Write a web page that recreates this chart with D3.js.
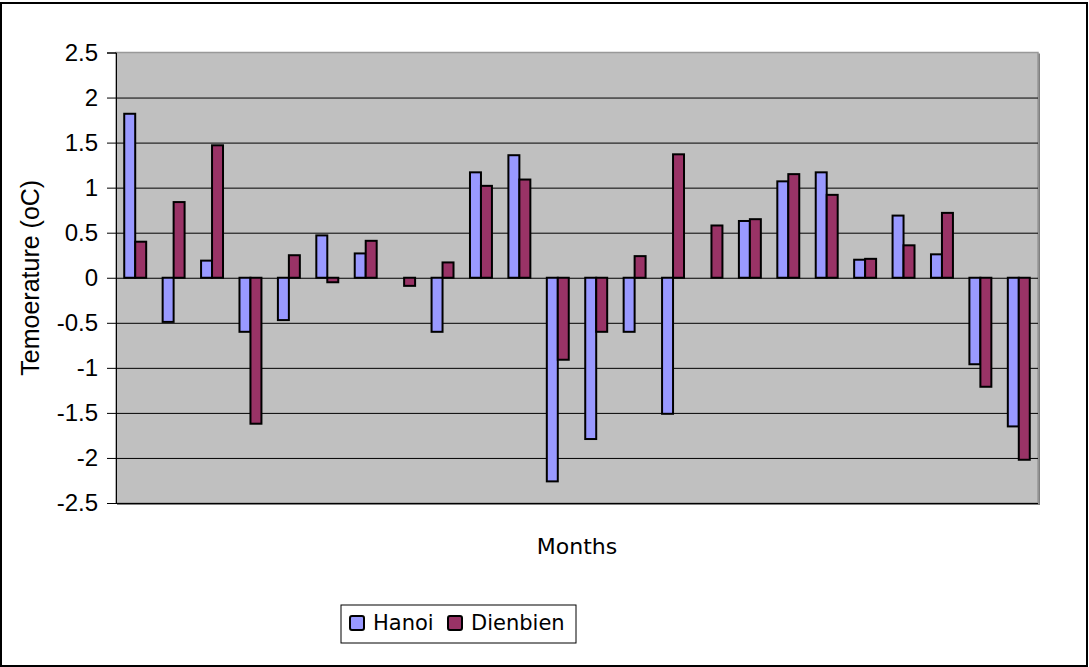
<!DOCTYPE html>
<meta charset="utf-8">
<style>
  body { margin: 0; background: #fff; }
  .tick text { font-family: "Liberation Sans", Arial, sans-serif; }
</style>
<script src="https://d3js.org/d3.v7.min.js"></script>
<div id="chart"></div>
<script>

// months on the x axis (no labels are printed in the chart)
var months = ["1", "2", "3", "4", "5", "6", "7", "8", "9", "10", "11", "12",
              "13", "14", "15", "16", "17", "18", "19", "20", "21", "22", "23", "24"];
var seriesNames = ["Hanoi", "Dienbien"];
var hanoi    = [1.82, -0.49, 0.19, -0.60, -0.47, 0.47, 0.27, 0.00, -0.60, 1.17, 1.36, -2.26,
                -1.79, -0.60, -1.51, null, 0.63, 1.07, 1.17, 0.20, 0.69, 0.26, -0.96, -1.65];
var dienbien = [0.40, 0.84, 1.47, -1.62, 0.25, -0.05, 0.41, -0.09, 0.17, 1.02, 1.09, -0.91,
                -0.60, 0.24, 1.37, 0.58, 0.65, 1.15, 0.92, 0.21, 0.36, 0.72, -1.21, -2.02];
var yTicks = [-2.5, -2, -1.5, -1, -0.5, 0, 0.5, 1, 1.5, 2, 2.5];
var colors = ["#9999FF", "#993366"];

var W = 1089, H = 667;
var margin = {top: 52.5, right: 51, bottom: 164, left: 116},
    width = W - margin.left - margin.right,
    height = H - margin.top - margin.bottom;

var svg = d3.select("#chart")
  .append("svg")
    .attr("width", W)
    .attr("height", H);

// outer frame
svg.append("rect")
    .attr("x", 1).attr("y", 3)
    .attr("width", 1086).attr("height", 663)
    .attr("fill", "#fff")
    .attr("stroke", "#000")
    .attr("stroke-width", 2);

var g = svg.append("g")
    .attr("transform", "translate(" + margin.left + "," + margin.top + ")");

var x0 = d3.scaleBand()
    .domain(months)
    .range([0, width]);
var x1 = d3.scaleBand()
    .domain(seriesNames)
    .range([0, x0.bandwidth()])
    .paddingInner(0)
    .paddingOuter(0.75);
var y = d3.scaleLinear()
    .domain([-2.5, 2.5])
    .range([height, 0]);

// plot area with a grey shadow
g.append("rect")
    .attr("x", 1).attr("y", 1)
    .attr("width", width + 1).attr("height", height + 1)
    .attr("fill", "#808080");
g.append("rect")
    .attr("x", 0).attr("y", 0)
    .attr("width", width).attr("height", height)
    .attr("fill", "#C0C0C0")
    .attr("stroke", "#999")
    .attr("stroke-width", 1.5);

// gridlines
g.append("g")
    .call(d3.axisLeft(y).tickValues(yTicks.slice(0, -1)).tickSize(-width).tickFormat(""))
    .call(function(s) {
      s.select(".domain").remove();
      s.selectAll("line").attr("stroke", "#000").attr("stroke-width", 1);
    });

// y axis
g.append("g")
    .call(d3.axisLeft(y).tickValues(yTicks).tickSize(9).tickPadding(9)
      .tickFormat(function(d) { return d3.format("")(d).replace("−", "-"); }))
    .call(function(s) {
      s.select(".domain").attr("stroke", "#000");
      s.selectAll(".tick line").attr("stroke", "#000");
      s.selectAll(".tick text")
        .attr("font-size", 24)
        .attr("fill", "#000");
    });

// bars
var data = months.map(function(m, i) {
  return {month: m, values: [
    {name: seriesNames[0], value: hanoi[i]},
    {name: seriesNames[1], value: dienbien[i]}
  ]};
});

g.selectAll(".grp")
  .data(data)
  .enter().append("g")
    .attr("class", "grp")
    .attr("transform", function(d) { return "translate(" + x0(d.month) + ",0)"; })
  .selectAll("rect")
  .data(function(d) { return d.values.filter(function(v) { return v.value !== null; }); })
  .enter().append("rect")
    .attr("x", function(d) { return x1(d.name); })
    .attr("width", x1.bandwidth())
    .attr("y", function(d) { return y(Math.max(0, d.value)); })
    .attr("height", function(d) { return Math.abs(y(d.value) - y(0)); })
    .attr("fill", function(d) { return colors[seriesNames.indexOf(d.name)]; })
    .attr("stroke", "#000")
    .attr("stroke-width", 2);

// axis titles
svg.append("text")
    .attr("transform", "translate(39," + (margin.top + height / 2) + ") rotate(-90)")
    .attr("text-anchor", "middle")
    .attr("font-family", "Liberation Sans, Arial, sans-serif")
    .attr("font-size", 25)
    .text("Temoerature (oC)");

svg.append("text")
    .attr("x", margin.left + width / 2)
    .attr("y", 554)
    .attr("text-anchor", "middle")
    .attr("font-family", "DejaVu Sans, Verdana, sans-serif")
    .attr("font-size", 22)
    .text("Months");

// legend
var legend = svg.append("g").attr("transform", "translate(341,605)");
legend.append("rect")
    .attr("width", 235).attr("height", 38)
    .attr("fill", "#fff")
    .attr("stroke", "#000")
    .attr("stroke-width", 1);
var legX = [9, 107];
seriesNames.forEach(function(name, i) {
  legend.append("rect")
      .attr("x", legX[i]).attr("y", 11)
      .attr("width", 14).attr("height", 14)
      .attr("rx", 2)
      .attr("fill", colors[i])
      .attr("stroke", "#000")
      .attr("stroke-width", 2);
  legend.append("text")
      .attr("x", legX[i] + 23).attr("y", 25)
      .attr("font-family", "DejaVu Sans, Verdana, sans-serif")
      .attr("font-size", 21)
      .text(name);
});

</script>
